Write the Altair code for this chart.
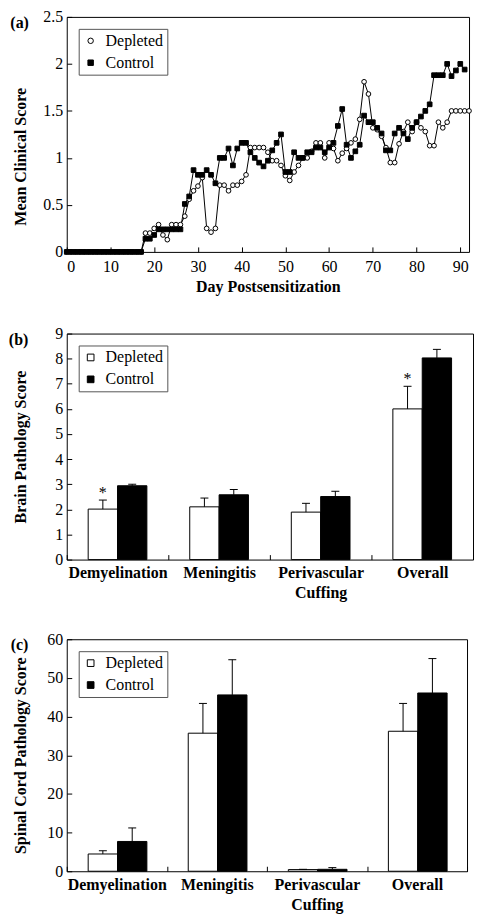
import altair as alt
import pandas as pd

FONT = "Liberation Serif"
SERIES = ["Depleted", "Control"]

# ---------------- Panel (a): clinical score over time ----------------
days_depleted = list(range(0, 93))
score_depleted = [
    0, 0, 0, 0, 0, 0, 0, 0, 0, 0, 0, 0, 0, 0, 0, 0, 0, 0,
    0.2, 0.2, 0.25, 0.29, 0.18, 0.13, 0.29, 0.29, 0.29, 0.38,
    0.56, 0.65, 0.7, 0.79, 0.25, 0.21, 0.25, 0.71, 0.71, 0.65,
    0.71, 0.71, 0.75, 0.82, 1.11, 1.11, 1.11, 1.11, 1.06, 0.97,
    0.97, 0.92, 0.81, 0.76, 0.85, 0.92, 1.0, 1.0, 1.07, 1.16,
    1.16, 1.0, 1.16, 1.1, 0.97, 1.05, 1.1, 1.16, 1.2, 1.41,
    1.81, 1.68, 1.32, 1.3, 1.23, 1.11, 0.95, 0.95, 1.15, 1.28,
    1.38, 1.28, 1.38, 1.32, 1.28, 1.13, 1.13, 1.38, 1.32, 1.38,
    1.5, 1.5, 1.5, 1.5, 1.5,
]
days_control = list(range(0, 92))
score_control = [
    0, 0, 0, 0, 0, 0, 0, 0, 0, 0, 0, 0, 0, 0, 0, 0, 0, 0,
    0.14, 0.14, 0.18, 0.24, 0.24, 0.24, 0.24, 0.24, 0.24, 0.51,
    0.59, 0.87, 0.82, 0.82, 0.87, 0.82, 0.73, 1.0, 1.0, 1.1,
    0.92, 1.1, 1.16, 1.16, 1.06, 1.0, 0.95, 0.91, 0.97, 1.08,
    1.16, 1.25, 0.85, 0.85, 1.06, 1.0, 1.0, 1.06, 1.06, 1.11,
    1.11, 1.06, 1.11, 1.16, 1.34, 1.52, 1.14, 1.0, 1.07, 1.14,
    1.45, 1.38, 1.38, 1.32, 1.26, 1.08, 1.08, 1.26, 1.32, 1.26,
    1.2, 1.32, 1.38, 1.44, 1.5, 1.57, 1.88, 1.88, 1.88, 2.0,
    1.87, 1.93, 2.0, 1.94,
]
x_ticks_a = [0, 10, 20, 30, 40, 50, 60, 70, 80, 90]
y_ticks_a = [0, 0.5, 1, 1.5, 2, 2.5]

# ---------------- Panels (b) and (c): pathology bars ----------------
categories = ["Demyelination", "Meningitis", "Perivascular Cuffing", "Overall"]

brain_depleted = [2.01, 2.1, 1.89, 6.0]
brain_depleted_sem = [0.36, 0.35, 0.35, 0.9]
brain_control = [2.94, 2.58, 2.51, 8.03]
brain_control_sem = [0.06, 0.21, 0.21, 0.34]
brain_stars = ["*", "", "", "*"]
brain_y_ticks = [0, 1, 2, 3, 4, 5, 6, 7, 8, 9]

cord_depleted = [4.46, 35.7, 0.43, 36.2]
cord_depleted_sem = [0.84, 7.7, 0.07, 7.2]
cord_control = [7.7, 45.6, 0.5, 46.1]
cord_control_sem = [3.5, 9.1, 0.44, 8.9]
cord_stars = ["", "", "", ""]
cord_y_ticks = [0, 10, 20, 30, 40, 50, 60]


def axis(**kw):
    base = dict(
        domain=False, offset=-5, tickSize=5, tickColor="black", tickWidth=1,
        grid=False, labelOverlap=False,
        labelFont=FONT, labelFontSize=16, labelColor="black",
        titleFont=FONT, titleFontSize=16, titleFontWeight="bold", titleColor="black",
    )
    base.update(kw)
    return alt.Axis(**base)


def legend_params(symbol_type=None, size=30):
    kw = dict(
        title=None, orient="top-left", offset=12,
        padding=4, rowPadding=6, strokeColor="#555555", fillColor="white",
        labelFont=FONT, labelFontSize=16, labelColor="black",
        symbolStrokeColor="black", symbolStrokeWidth=1, symbolSize=size,
        labelOffset=7, cornerRadius=0,
    )
    if symbol_type:
        kw["symbolType"] = symbol_type
    return alt.Legend(**kw)


def panel_title(text):
    return alt.TitleParams(
        text=text, orient="left", anchor="end", frame="group", angle=0,
        align="left", baseline="top", offset=0, dx=16, dy=-2,
        font=FONT, fontSize=16, fontWeight="bold", color="black",
    )


df_a = pd.DataFrame({
    "day": days_depleted + days_control,
    "score": score_depleted + score_control,
    "series": ["Depleted"] * len(days_depleted) + ["Control"] * len(days_control),
})

x_a = alt.X(
    "day:Q", scale=alt.Scale(domain=[0, 92], nice=False),
    axis=axis(values=x_ticks_a, title="Day Postsensitization", labelPadding=7, titlePadding=4),
)
y_a = alt.Y(
    "score:Q", scale=alt.Scale(domain=[0, 2.5], nice=False),
    axis=axis(values=y_ticks_a, format="~g", title="Mean Clinical  Score", labelPadding=4,
              titleX=-46, titleY=140, titleBaseline="alphabetic"),
)
base_a = alt.Chart(df_a)
lines_a = base_a.mark_line(color="black", strokeWidth=1).encode(
    x=x_a, y=y_a, detail="series:N"
)
leg_a = legend_params(size=30)
points_a = base_a.mark_point(filled=True, strokeWidth=1, opacity=1, size=22).encode(
    x=x_a, y=y_a,
    shape=alt.Shape("series:N", scale=alt.Scale(domain=SERIES, range=["circle", "square"]), legend=leg_a),
    fill=alt.Fill("series:N", scale=alt.Scale(domain=SERIES, range=["white", "black"]), legend=leg_a),
    stroke=alt.Stroke("series:N", scale=alt.Scale(domain=SERIES, range=["black", "black"]), legend=leg_a),
)
chart_a = alt.layer(lines_a, points_a).properties(
    width=404, height=236, title=panel_title("(a)")
)


def bar_panel(dep, dep_sem, ctl, ctl_sem, stars, ymax, yticks, ytitle, label, w, h):
    df = pd.DataFrame({
        "category": categories * 2,
        "series": ["Depleted"] * 4 + ["Control"] * 4,
        "mean": dep + ctl,
        "sem": dep_sem + ctl_sem,
        "star": stars + ["", "", "", ""],
    })
    base = alt.Chart(df).transform_calculate(upper="datum.mean + datum.sem")
    x = alt.X(
        "category:N", sort=categories,
        scale=alt.Scale(paddingInner=0, paddingOuter=0),
        axis=axis(title=None, labelAngle=0, labelExpr="split(datum.label, ' ')",
                  tickBand="extent", labelFontWeight="bold", labelLineHeight=20,
                  labelPadding=5),
    )
    xo = alt.XOffset("series:N", sort=SERIES, scale=alt.Scale(paddingInner=0, paddingOuter=0.73))
    y_axis = axis(values=yticks, title=ytitle, labelPadding=4,
                  titleX=-46.6, titleBaseline="alphabetic")
    y_scale = alt.Scale(domain=[0, ymax], nice=False)
    bars = base.mark_bar(stroke="black", strokeWidth=1).encode(
        x=x, xOffset=xo, y=alt.Y("mean:Q", scale=y_scale, axis=y_axis),
        fill=alt.Fill("series:N", scale=alt.Scale(domain=SERIES, range=["white", "black"]),
                      legend=legend_params(symbol_type="square", size=45)),
    )
    rule = base.mark_rule(color="black", strokeWidth=1).encode(
        x=x, xOffset=xo, y=alt.Y("mean:Q", scale=y_scale, axis=y_axis), y2="upper:Q"
    )
    cap = base.mark_tick(color="black", thickness=1, size=8, opacity=1).encode(
        x=x, xOffset=xo, y=alt.Y("upper:Q", scale=y_scale, axis=y_axis)
    )
    star = base.mark_text(font=FONT, fontSize=16, baseline="alphabetic", dy=-2,
                          color="black", fill="black").encode(
        x=x, xOffset=xo, y=alt.Y("upper:Q", scale=y_scale, axis=y_axis), text="star:N"
    )
    return alt.layer(bars, rule, cap, star).properties(
        width=w, height=h, title=panel_title(label)
    )


chart_b = bar_panel(brain_depleted, brain_depleted_sem, brain_control, brain_control_sem,
                    brain_stars, 9, brain_y_ticks, "Brain Pathology Score", "(b)", 408, 227)
chart_c = bar_panel(cord_depleted, cord_depleted_sem, cord_control, cord_control_sem,
                    cord_stars, 60, cord_y_ticks, "Spinal Cord Pathology Score", "(c)", 402, 233)

chart = alt.vconcat(chart_a, chart_b, chart_c, spacing=29).resolve_scale(
    fill="independent", shape="independent", stroke="independent"
).resolve_legend(
    fill="independent", shape="independent", stroke="independent"
).properties(
    padding={"left": 0, "top": -2, "right": 0, "bottom": 0}, background="white"
).configure(font=FONT).configure_view(
    stroke="black", strokeWidth=1
)

chart.save("out.html", embed_options={"renderer": "svg", "actions": False})
